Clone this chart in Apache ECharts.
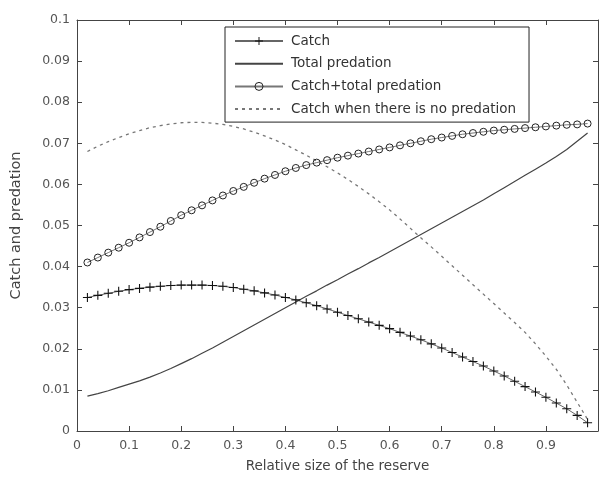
<!DOCTYPE html>
<html><head><meta charset="utf-8">
<script src="https://cdn.jsdelivr.net/npm/echarts@6/dist/echarts.min.js"></script>
<style>html,body{margin:0;padding:0;background:#fff}#c{width:601px;height:478px}</style>
</head><body><div id="c"></div>
<script>
const xValues = [0.02,0.04,0.06,0.08,0.10,0.12,0.14,0.16,0.18,0.20,0.22,0.24,0.26,0.28,0.30,0.32,0.34,0.36,0.38,0.40,0.42,0.44,0.46,0.48,0.50,0.52,0.54,0.56,0.58,0.60,0.62,0.64,0.66,0.68,0.70,0.72,0.74,0.76,0.78,0.80,0.82,0.84,0.86,0.88,0.90,0.92,0.94,0.96,0.98];
const catchValues = [0.0325,0.0330,0.0335,0.0340,0.0344,0.0347,0.0350,0.0352,0.0354,0.0355,0.0355,0.0355,0.0354,0.0352,0.0349,0.0345,0.0341,0.0336,0.0331,0.0325,0.0319,0.0312,0.0305,0.0297,0.0289,0.0281,0.0273,0.0265,0.0257,0.0249,0.0240,0.0231,0.0222,0.0212,0.0202,0.0191,0.0180,0.0169,0.0158,0.0146,0.0134,0.0121,0.0108,0.0095,0.0082,0.0068,0.0054,0.0038,0.0020];
const predationValues = [0.0085,0.0091,0.0098,0.0106,0.0114,0.0122,0.0131,0.0141,0.0152,0.0164,0.0176,0.0189,0.0202,0.0216,0.0230,0.0244,0.0258,0.0272,0.0286,0.0300,0.0314,0.0328,0.0341,0.0355,0.0368,0.0382,0.0395,0.0409,0.0422,0.0436,0.0450,0.0464,0.0478,0.0492,0.0506,0.0520,0.0534,0.0548,0.0562,0.0577,0.0592,0.0607,0.0622,0.0637,0.0652,0.0668,0.0685,0.0705,0.0725];
const sumValues = [0.0410,0.0422,0.0434,0.0446,0.0458,0.0471,0.0484,0.0497,0.0511,0.0525,0.0537,0.0549,0.0561,0.0573,0.0584,0.0594,0.0604,0.0614,0.0623,0.0632,0.0640,0.0647,0.0653,0.0659,0.0665,0.0670,0.0675,0.0680,0.0685,0.0690,0.0695,0.0700,0.0705,0.0710,0.0714,0.0718,0.0722,0.0725,0.0728,0.0731,0.0733,0.0735,0.0737,0.0739,0.0741,0.0743,0.0745,0.0746,0.0748];
const noPredationValues = [0.0680,0.0693,0.0704,0.0714,0.0723,0.0731,0.0738,0.0743,0.0747,0.0750,0.0751,0.0751,0.0749,0.0746,0.0741,0.0735,0.0727,0.0718,0.0708,0.0697,0.0684,0.0671,0.0657,0.0643,0.0628,0.0612,0.0595,0.0577,0.0558,0.0538,0.0516,0.0493,0.0470,0.0448,0.0425,0.0402,0.0379,0.0356,0.0333,0.0310,0.0287,0.0264,0.0240,0.0212,0.0182,0.0150,0.0112,0.0070,0.0028];
const seriesNames = ['Catch','Total predation','Catch+total predation','Catch when there is no predation'];
const xAxisName = 'Relative size of the reserve';
const yAxisName = 'Catch and predation';

const pair = arr => xValues.map((x, i) => [x, arr[i]]);
const font = 'DejaVu Sans';
const axisCol = '#444';
const plusPath = 'path://M0,4.4H10V5.6H0Z M4.4,0H5.6V10H4.4Z';

const chart = echarts.init(document.getElementById('c'), null, {renderer: 'canvas'});
chart.setOption({
  animation: false,
  backgroundColor: '#fff',
  grid: {left: 77, top: 20, right: -3, bottom: 45, containLabel: false},
  xAxis: [{
    type: 'value', min: 0, max: 1, interval: 0.1, position: 'bottom',
    name: xAxisName, nameLocation: 'middle', nameGap: 28,
    nameTextStyle: {fontFamily: font, fontSize: 13.5, color: '#444'},
    axisLine: {show: true, onZero: false, lineStyle: {color: axisCol, width: 1}},
    axisTick: {show: true, inside: true, length: 5, lineStyle: {color: axisCol}},
    axisLabel: {fontFamily: font, fontSize: 12.5, color: '#555', margin: 8,
      formatter: v => v >= 0.999 ? '' : String(+v.toFixed(1))},
    splitLine: {show: false}
  }, {
    type: 'value', min: 0, max: 1, interval: 0.1, position: 'top',
    axisLine: {show: true, onZero: false, lineStyle: {color: axisCol, width: 1}},
    axisTick: {show: true, inside: true, length: 5, lineStyle: {color: axisCol}},
    axisLabel: {show: false}, splitLine: {show: false}
  }],
  yAxis: [{
    type: 'value', min: 0, max: 0.1, interval: 0.01, position: 'left',
    name: yAxisName, nameLocation: 'middle', nameGap: 53, nameRotate: 90,
    nameTextStyle: {fontFamily: font, fontSize: 14.5, color: '#444'},
    axisLine: {show: true, onZero: false, lineStyle: {color: axisCol, width: 1}},
    axisTick: {show: true, inside: true, length: 5, lineStyle: {color: axisCol}},
    axisLabel: {fontFamily: font, fontSize: 12.5, color: '#555', margin: 7,
      formatter: v => String(+v.toFixed(2))},
    splitLine: {show: false}
  }, {
    type: 'value', min: 0, max: 0.1, interval: 0.01, position: 'right',
    axisLine: {show: true, onZero: false, lineStyle: {color: axisCol, width: 1}},
    axisTick: {show: true, inside: true, length: 5, lineStyle: {color: axisCol}},
    axisLabel: {show: false}, splitLine: {show: false}
  }],
  legend: {
    orient: 'vertical', left: 225, top: 27, padding: [7, 13, 6, 9],
    itemWidth: 48, itemHeight: 10, itemGap: 8.7,
    borderColor: '#222', borderWidth: 1, backgroundColor: '#fff',
    textStyle: {fontFamily: font, fontSize: 13.5, lineHeight: 14, color: '#333', padding: [0, 0, 0, 3]},
    data: [
      {name: seriesNames[0]},
      {name: seriesNames[1], itemStyle: {opacity: 0}},
      {name: seriesNames[2], itemStyle: {borderWidth: 1}},
      {name: seriesNames[3], itemStyle: {opacity: 0}}
    ]
  },
  series: [{
    name: seriesNames[0], type: 'line', data: pair(catchValues),
    symbol: plusPath, symbolSize: 9, showAllSymbol: true,
    lineStyle: {color: '#666', width: 1},
    itemStyle: {color: '#111'}, z: 3
  }, {
    name: seriesNames[1], type: 'line', data: pair(predationValues),
    symbol: 'none', lineStyle: {color: '#444', width: 1.2},
    itemStyle: {color: '#444'}
  }, {
    name: seriesNames[2], type: 'line', data: pair(sumValues),
    symbol: 'circle', symbolSize: 7, showAllSymbol: true,
    lineStyle: {color: '#777', width: 1},
    itemStyle: {color: 'rgba(255,255,255,0)', borderColor: '#222', borderWidth: 1}
  }, {
    name: seriesNames[3], type: 'line', data: pair(noPredationValues),
    symbol: 'none', lineStyle: {color: '#777', width: 1.3, type: [3, 4]},
    itemStyle: {color: '#777'}
  }]
});
</script></body></html>
